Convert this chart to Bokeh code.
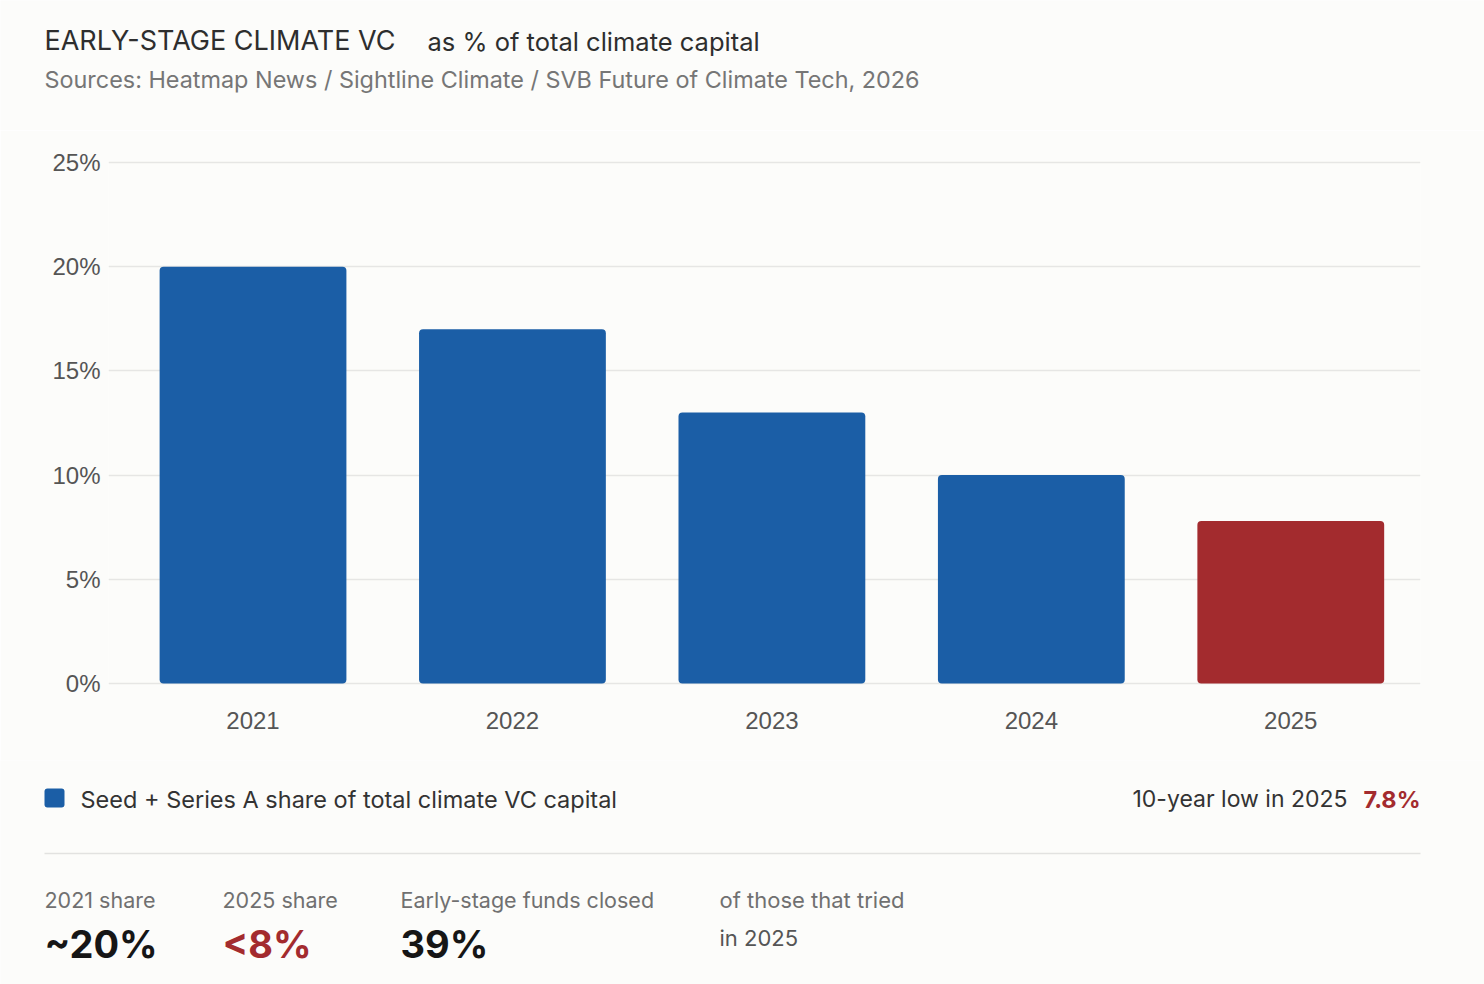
from bokeh.plotting import figure
from bokeh.layouts import column
from bokeh.models import ColumnDataSource, Range1d, FixedTicker
from bokeh.core.properties import value
from bokeh.embed import file_html
from bokeh.resources import INLINE

# ---- data ----
years = ["2021", "2022", "2023", "2024", "2025"]
shares = [20, 17, 13, 10, 7.8]
bar_colors = ["#1b5ea6", "#1b5ea6", "#1b5ea6", "#1b5ea6", "#a32b2e"]
y_ticks = [0, 5, 10, 15, 20, 25]
y_tick_labels = ["0%", "5%", "10%", "15%", "20%", "25%"]
legend_label = "Seed + Series A share of total climate VC capital"
title_main = "EARLY-STAGE CLIMATE VC"
title_sub = "as % of total climate capital"
sources = "Sources: Heatmap News / Sightline Climate / SVB Future of Climate Tech, 2026"
note_text = "10-year low in 2025"
note_value = "7.8%"
stat_labels = ["2021 share", "2025 share", "Early-stage funds closed"]
stat_values = ["~20%", "<8%", "39%"]
stat_colors = ["#161616", "#a32b2e", "#161616"]
stat_note = ["of those that tried", "in 2025"]

BG = "#fcfcfa"
BLUE = "#1b5ea6"
RED = "#a32b2e"
FONT = "Inter"
TICKFONT = "Liberation Sans"
W = 1484


def text_fig(height, y_top):
    f = figure(width=W, height=height, output_backend="svg", toolbar_location=None,
               x_range=Range1d(0, W), y_range=Range1d(y_top + height, y_top),
               x_axis_location=None, y_axis_location=None, frame_align=False,
               min_border=0, min_border_left=0, min_border_right=0,
               min_border_top=0, min_border_bottom=0)
    f.background_fill_color = BG
    f.border_fill_color = BG
    f.outline_line_color = None
    f.xgrid.visible = False
    f.ygrid.visible = False
    return f


def put(f, x, y, text, size, color, align="left", style="normal", font=FONT,
        text_color=None):
    px = float(size.replace("px", ""))
    ys = [v - 0.36 * px for v in y]
    f.text(x=x, y=ys, text=text, text_font=value(font), text_font_size=size,
           text_color=text_color if text_color is not None else color,
           text_align=align, text_baseline="alphabetic", text_font_style=style)


# ---- header ----
top = text_fig(130, 0)
put(top, [44], [50], [title_main], "27px", "#2e2e2e")
put(top, [427], [50], [title_sub], "25.5px", "#2e2e2e")
put(top, [44], [87], [sources], "23.4px", "#767676")

# ---- chart ----
p = figure(width=W, height=630, output_backend="svg", toolbar_location=None,
           x_range=Range1d(-0.557, 4.5), y_range=Range1d(-0.1, 25.1),
           frame_align=False,
           min_border_left=108, min_border_right=64,
           min_border_top=30, min_border_bottom=75)
p.background_fill_color = BG
p.border_fill_color = BG
p.outline_line_color = None

src = ColumnDataSource(dict(x=list(range(len(years))), top=shares, color=bar_colors))
bars = p.vbar(x="x", top="top", bottom=0, width=0.72, color="color", source=src,
              line_color=None, border_radius=4)

p.xaxis.ticker = FixedTicker(ticks=list(range(len(years))))
p.xaxis.major_label_overrides = {i: y for i, y in enumerate(years)}
p.yaxis.ticker = FixedTicker(ticks=y_ticks)
p.yaxis.major_label_overrides = {t: l for t, l in zip(y_ticks, y_tick_labels)}
for ax in (p.xaxis[0], p.yaxis[0]):
    ax.axis_line_color = None
    ax.major_tick_line_color = None
    ax.minor_tick_line_color = None
    ax.major_tick_in = 0
    ax.major_tick_out = 0
    ax.major_label_text_color = "#555555"
    ax.major_label_text_font = TICKFONT
    ax.major_label_text_font_size = "24px"
p.xaxis.major_label_standoff = 26
p.yaxis.major_label_standoff = 8
p.xgrid.grid_line_color = None
p.ygrid.grid_line_color = "#e6e6e4"
p.ygrid.grid_line_width = 1.5

# ---- footer ----
bot = text_fig(224, 760)
# legend swatch + label
bot.quad(left=[44], right=[64], top=[788], bottom=[807], fill_color=BLUE,
         line_color=None, border_radius=3)
put(bot, [80], [807], [legend_label], "23.5px", "#333333")

put(bot, [1347], [807], [note_text], "23px", "#333333", align="right")
put(bot, [1420], [807], [note_value], "23.5px", RED, align="right", style="bold")
bot.line(x=[44, 1420], y=[853, 853], line_color="#e2e2e0", line_width=1.5)

stat_x = [44, 222, 400]
put(bot, stat_x, [907] * 3, stat_labels, "21.5px", "#707070")
put(bot, stat_x, [957] * 3, stat_values, "38px", None, style="bold",
    text_color=stat_colors)
put(bot, [719], [907], [stat_note[0]], "22px", "#707070")
put(bot, [719], [945], [stat_note[1]], "22px", "#555555")

layout = column(top, p, bot, spacing=0)
open("out.html", "w").write(file_html(layout, INLINE))
